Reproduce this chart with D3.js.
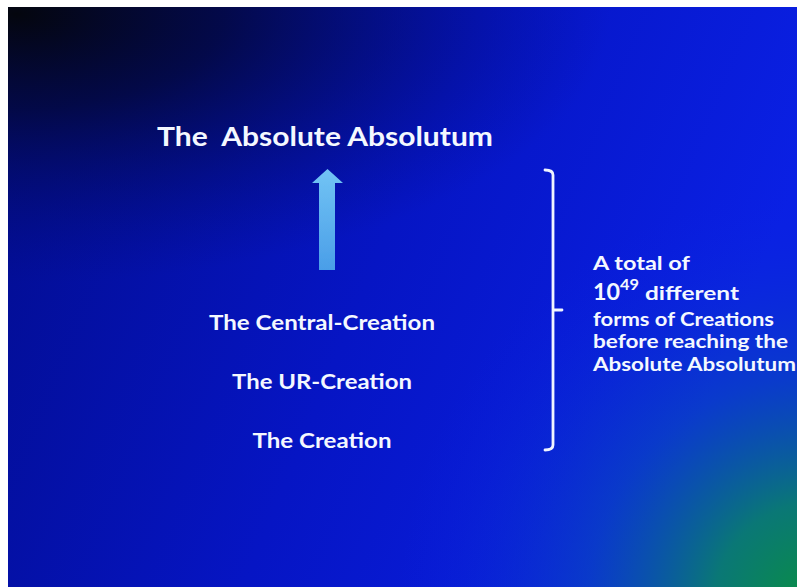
<!DOCTYPE html>
<html>
<head>
<meta charset="utf-8">
<script src="https://cdn.jsdelivr.net/npm/d3@7"></script>
<style>
    body { margin: 0; background: #fff; }
    svg { display: block; }
    text { font-family: Lato, 'Open Sans', sans-serif; font-weight: 700; fill: #f4f8ff; white-space: pre; }
</style>
</head>
<body>
<svg id="slide"></svg>
<script>
// slide content
const title = 'The  Absolute Absolutum'
const levels = ['The Central-Creation', 'The UR-Creation', 'The Creation']
const levelWidths = [226, 180, 139]
const noteLines = ['A total of', 'different', 'forms of Creations', 'before reaching the', 'Absolute Absolutum']
const noteWidths = [97, 94, 181, 195, 203]
const base = '10'
const exponent = '49'

class Slide {

    constructor(_config) {
        this.config = {
            parentElement: _config.parentElement,
            containerWidth: _config.containerWidth || 797,
            containerHeight: _config.containerHeight || 587,
            margin: { top: 7, right: 0, bottom: 0, left: 8 }
        }
        this.initVis()
    }

    initVis() {
        let vis = this

        vis.width = vis.config.containerWidth - vis.config.margin.left - vis.config.margin.right
        vis.height = vis.config.containerHeight - vis.config.margin.top - vis.config.margin.bottom

        vis.svg = d3.select(vis.config.parentElement)
            .attr('width', vis.config.containerWidth)
            .attr('height', vis.config.containerHeight)

        const defs = vis.svg.append('defs')

        const lin = defs.append('linearGradient').attr('id', 'bg')
            .attr('x1', 0).attr('y1', 0).attr('x2', 1).attr('y2', 0.3)
        lin.append('stop').attr('offset', 0).attr('stop-color', '#020c8a')
        lin.append('stop').attr('offset', 0.55).attr('stop-color', '#0615c4')
        lin.append('stop').attr('offset', 1).attr('stop-color', '#0a20e4')

        const dark = defs.append('radialGradient').attr('id', 'dark')
            .attr('gradientUnits', 'userSpaceOnUse')
            .attr('cx', 8).attr('cy', 7).attr('r', 540)
            .attr('gradientTransform', 'translate(8,7) scale(1.1,0.5) translate(-8,-7)')
        dark.append('stop').attr('offset', 0).attr('stop-color', '#04060e').attr('stop-opacity', 1)
        dark.append('stop').attr('offset', 0.35).attr('stop-color', '#03083a').attr('stop-opacity', 0.85)
        dark.append('stop').attr('offset', 1).attr('stop-color', '#020c80').attr('stop-opacity', 0)

        const green = defs.append('radialGradient').attr('id', 'green')
            .attr('gradientUnits', 'userSpaceOnUse')
            .attr('cx', 810).attr('cy', 600).attr('r', 420)
        green.append('stop').attr('offset', 0).attr('stop-color', '#0a9040').attr('stop-opacity', 1)
        green.append('stop').attr('offset', 0.25).attr('stop-color', '#0a7c70').attr('stop-opacity', 0.95)
        green.append('stop').attr('offset', 0.55).attr('stop-color', '#0a50b8').attr('stop-opacity', 0.55)
        green.append('stop').attr('offset', 1).attr('stop-color', '#0a20e4').attr('stop-opacity', 0)

        const arrowGrad = defs.append('linearGradient').attr('id', 'arrow')
            .attr('x1', 0).attr('y1', 0).attr('x2', 0).attr('y2', 1)
        arrowGrad.append('stop').attr('offset', 0).attr('stop-color', '#72c4f4')
        arrowGrad.append('stop').attr('offset', 1).attr('stop-color', '#4a9ee8')

        defs.append('filter').attr('id', 'soft')
            .append('feGaussianBlur').attr('stdDeviation', 0.7)

        vis.chart = vis.svg.append('g')
            .attr('transform', `translate(${vis.config.margin.left}, ${vis.config.margin.top})`)

        // slide pixel space
        vis.xScale = d3.scaleLinear().domain([8, 797]).range([0, vis.width])
        vis.yScale = d3.scaleLinear().domain([7, 587]).range([0, vis.height])
        vis.levelScale = d3.scalePoint().domain(levels).range([330, 448])
        vis.noteScale = d3.scaleLinear().domain([0, 1, 2, 3, 4]).range([270, 300, 326, 348, 371])

        vis.renderVis()
    }

    renderVis() {
        let vis = this
        const x = vis.xScale, y = vis.yScale

        ;['url(#bg)', 'url(#dark)', 'url(#green)'].forEach(f => {
            vis.chart.append('rect')
                .attr('width', vis.width)
                .attr('height', vis.height)
                .attr('fill', f)
        })

        vis.chart.append('text')
            .attr('x', x(157)).attr('y', y(146))
            .attr('font-size', 27)
            .attr('textLength', 336)
            .attr('lengthAdjust', 'spacingAndGlyphs')
            .text(title)

        // arrow up
        const arrowPts = [[319, 270], [319, 183], [312, 183], [327.5, 169], [343, 183], [335, 183], [335, 270]]
        vis.chart.append('path')
            .attr('d', d3.line().x(d => x(d[0])).y(d => y(d[1]))(arrowPts) + 'Z')
            .attr('fill', 'url(#arrow)')
            .attr('filter', 'url(#soft)')

        vis.chart.selectAll('.level')
            .data(levels)
            .join('text')
                .attr('class', 'level')
                .attr('x', x(322))
                .attr('y', d => y(vis.levelScale(d)))
                .attr('text-anchor', 'middle')
                .attr('font-size', 20)
                .attr('textLength', (d, i) => levelWidths[i])
                .attr('lengthAdjust', 'spacingAndGlyphs')
                .text(d => d)

        // brace: line with hooks and a middle tick
        const brace = d3.path()
        brace.moveTo(x(545), y(170))
        brace.quadraticCurveTo(x(553), y(170), x(553), y(175))
        brace.lineTo(x(553), y(445))
        brace.quadraticCurveTo(x(553), y(450), x(545), y(450))
        brace.moveTo(x(553), y(310))
        brace.lineTo(x(562), y(310))
        vis.chart.append('path')
            .attr('d', brace.toString())
            .attr('fill', 'none')
            .attr('stroke', '#f0f4ff')
            .attr('stroke-width', 2.8)
            .attr('stroke-linecap', 'round')

        // note lines
        vis.chart.selectAll('.note')
            .data(noteLines)
            .join('text')
                .attr('class', 'note')
                .attr('x', (d, i) => x(i === 1 ? 645 : 593))
                .attr('y', (d, i) => y(vis.noteScale(i)))
                .attr('font-size', 18)
                .attr('textLength', (d, i) => noteWidths[i])
                .attr('lengthAdjust', 'spacingAndGlyphs')
                .text(d => d)

        vis.chart.append('text')
            .attr('x', x(593)).attr('y', y(300))
            .attr('font-size', 23)
            .attr('textLength', 27)
            .attr('lengthAdjust', 'spacingAndGlyphs')
            .text(base)
        vis.chart.append('text')
            .attr('x', x(620)).attr('y', y(290))
            .attr('font-size', 15)
            .attr('textLength', 19)
            .attr('lengthAdjust', 'spacingAndGlyphs')
            .text(exponent)
    }
}

new Slide({ parentElement: '#slide' })
</script>
</body>
</html>
